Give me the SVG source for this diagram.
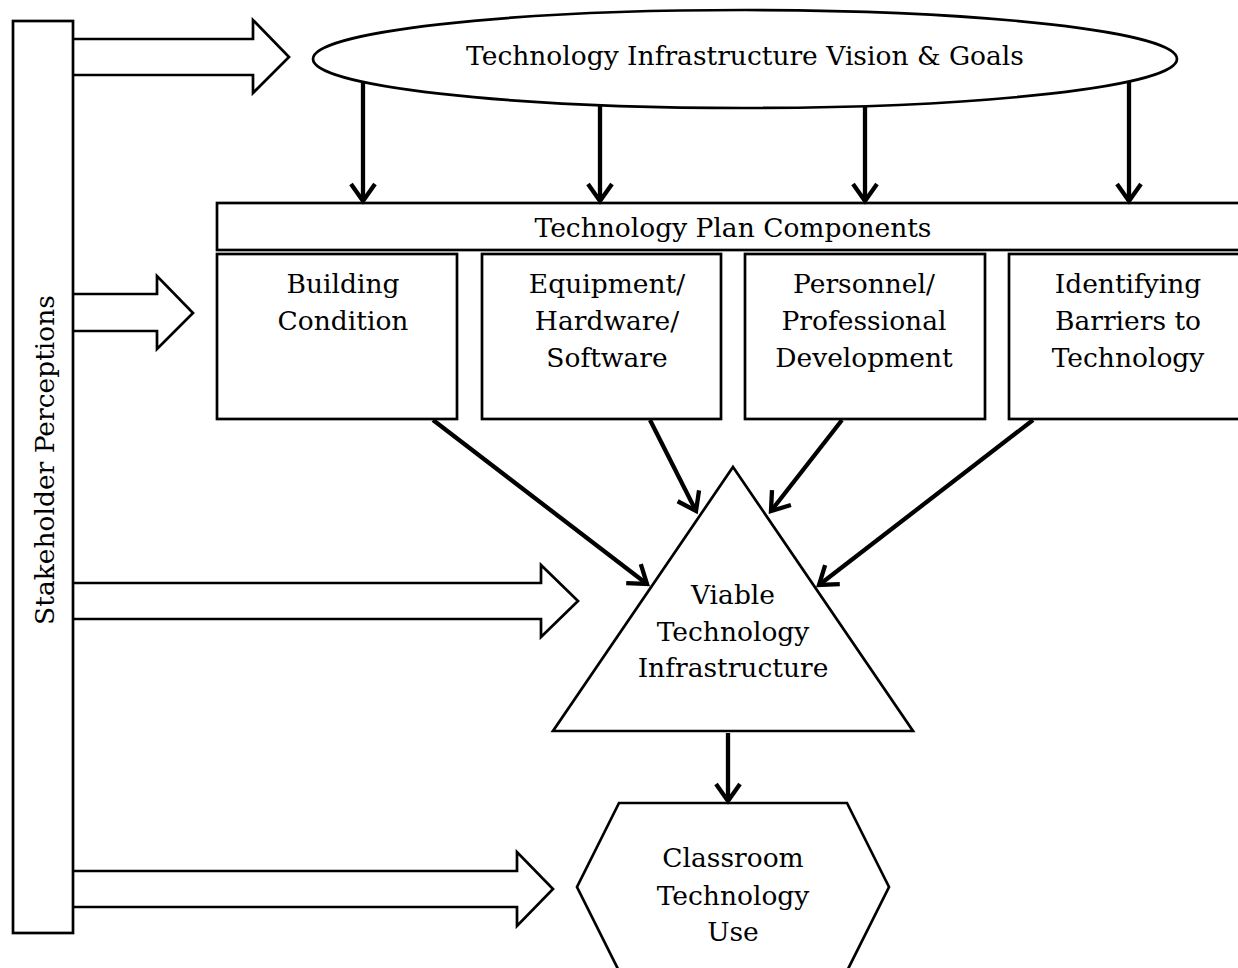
<svg xmlns="http://www.w3.org/2000/svg" width="1238" height="968" viewBox="0 0 1238 968">
  <defs>
    <style>
      .shape { fill: #fff; stroke: #000; stroke-width: 2.7; stroke-linejoin: miter; }
      .flow { fill: none; stroke: #000; stroke-width: 4.3; }
      .lbl { font-family: "DejaVu Serif", "Liberation Serif", serif; font-size: 26.5px; fill: #000; text-anchor: middle; }
    </style>
    <marker id="chev" markerUnits="userSpaceOnUse" markerWidth="32" markerHeight="32" viewBox="-22 -16 26 32" refX="0" refY="0" orient="auto">
      <path d="M -17,-12 L 0,0 L -17,12" fill="none" stroke="#000" stroke-width="4.3" stroke-linejoin="miter"/>
    </marker>
  </defs>
  <rect width="1238" height="968" fill="#fff"/>

  <!-- hollow block arrows leaving the side bar -->
  <g id="input-arrows">
    <path class="shape" d="M73,39 H253 V20 L289,57 L253,93 V75 H73"/>
    <path class="shape" d="M73,294 H157 V276 L193,313 L157,349 V331 H73"/>
    <path class="shape" d="M73,583 H541 V565 L578,601 L541,637 V619 H73"/>
    <path class="shape" d="M73,871 H517 V852 L553,889 L517,926 V907 H73"/>
  </g>

  <!-- side bar, drawn over the arrow tails so its edge stays unbroken -->
  <g id="stakeholders">
    <rect class="shape" x="13" y="21" width="60" height="912"/>
    <text class="lbl" transform="translate(54,460) rotate(-90)">Stakeholder Perceptions</text>
  </g>

  <g id="vision">
    <ellipse class="shape" cx="745" cy="59" rx="432" ry="49"/>
    <text class="lbl" x="745" y="65">Technology Infrastructure Vision &amp; Goals</text>
  </g>

  <g id="plan-header">
    <rect class="shape" x="217" y="203" width="1040" height="47"/>
    <text class="lbl" x="733" y="237">Technology Plan Components</text>
  </g>

  <g id="building">
    <rect class="shape" x="217" y="254" width="240" height="165"/>
    <text class="lbl" x="343" y="293">Building</text>
    <text class="lbl" x="343" y="330">Condition</text>
  </g>

  <g id="equipment">
    <rect class="shape" x="482" y="254" width="239" height="165"/>
    <text class="lbl" x="607" y="293">Equipment/</text>
    <text class="lbl" x="607" y="330">Hardware/</text>
    <text class="lbl" x="607" y="367">Software</text>
  </g>

  <g id="personnel">
    <rect class="shape" x="745" y="254" width="240" height="165"/>
    <text class="lbl" x="864" y="293">Personnel/</text>
    <text class="lbl" x="864" y="330">Professional</text>
    <text class="lbl" x="864" y="367">Development</text>
  </g>

  <g id="barriers">
    <rect class="shape" x="1009" y="254" width="240" height="165"/>
    <text class="lbl" x="1128" y="293">Identifying</text>
    <text class="lbl" x="1128" y="330">Barriers to</text>
    <text class="lbl" x="1128" y="367">Technology</text>
  </g>

  <g id="infrastructure">
    <polygon class="shape" points="733,467 913,731 553,731"/>
    <text class="lbl" x="733" y="604">Viable</text>
    <text class="lbl" x="733" y="641">Technology</text>
    <text class="lbl" x="733" y="677">Infrastructure</text>
  </g>

  <g id="classroom">
    <polygon class="shape" points="619,803 847,803 889,887 847,971 619,971 577,887"/>
    <text class="lbl" x="733" y="867">Classroom</text>
    <text class="lbl" x="733" y="905">Technology</text>
    <text class="lbl" x="733" y="941">Use</text>
  </g>

  <!-- solid connectors -->
  <g id="connectors">
    <line class="flow" x1="363" y1="82" x2="363" y2="201" marker-end="url(#chev)"/>
    <line class="flow" x1="600" y1="105" x2="600" y2="201" marker-end="url(#chev)"/>
    <line class="flow" x1="865" y1="106" x2="865" y2="201" marker-end="url(#chev)"/>
    <line class="flow" x1="1129" y1="82" x2="1129" y2="201" marker-end="url(#chev)"/>
    <line class="flow" x1="433" y1="420" x2="647" y2="584" marker-end="url(#chev)"/>
    <line class="flow" x1="650" y1="420" x2="696" y2="511" marker-end="url(#chev)"/>
    <line class="flow" x1="842" y1="420" x2="771" y2="511" marker-end="url(#chev)"/>
    <line class="flow" x1="1033" y1="420" x2="819" y2="585" marker-end="url(#chev)"/>
    <line class="flow" x1="728" y1="733" x2="728" y2="801" marker-end="url(#chev)"/>
  </g>
</svg>
